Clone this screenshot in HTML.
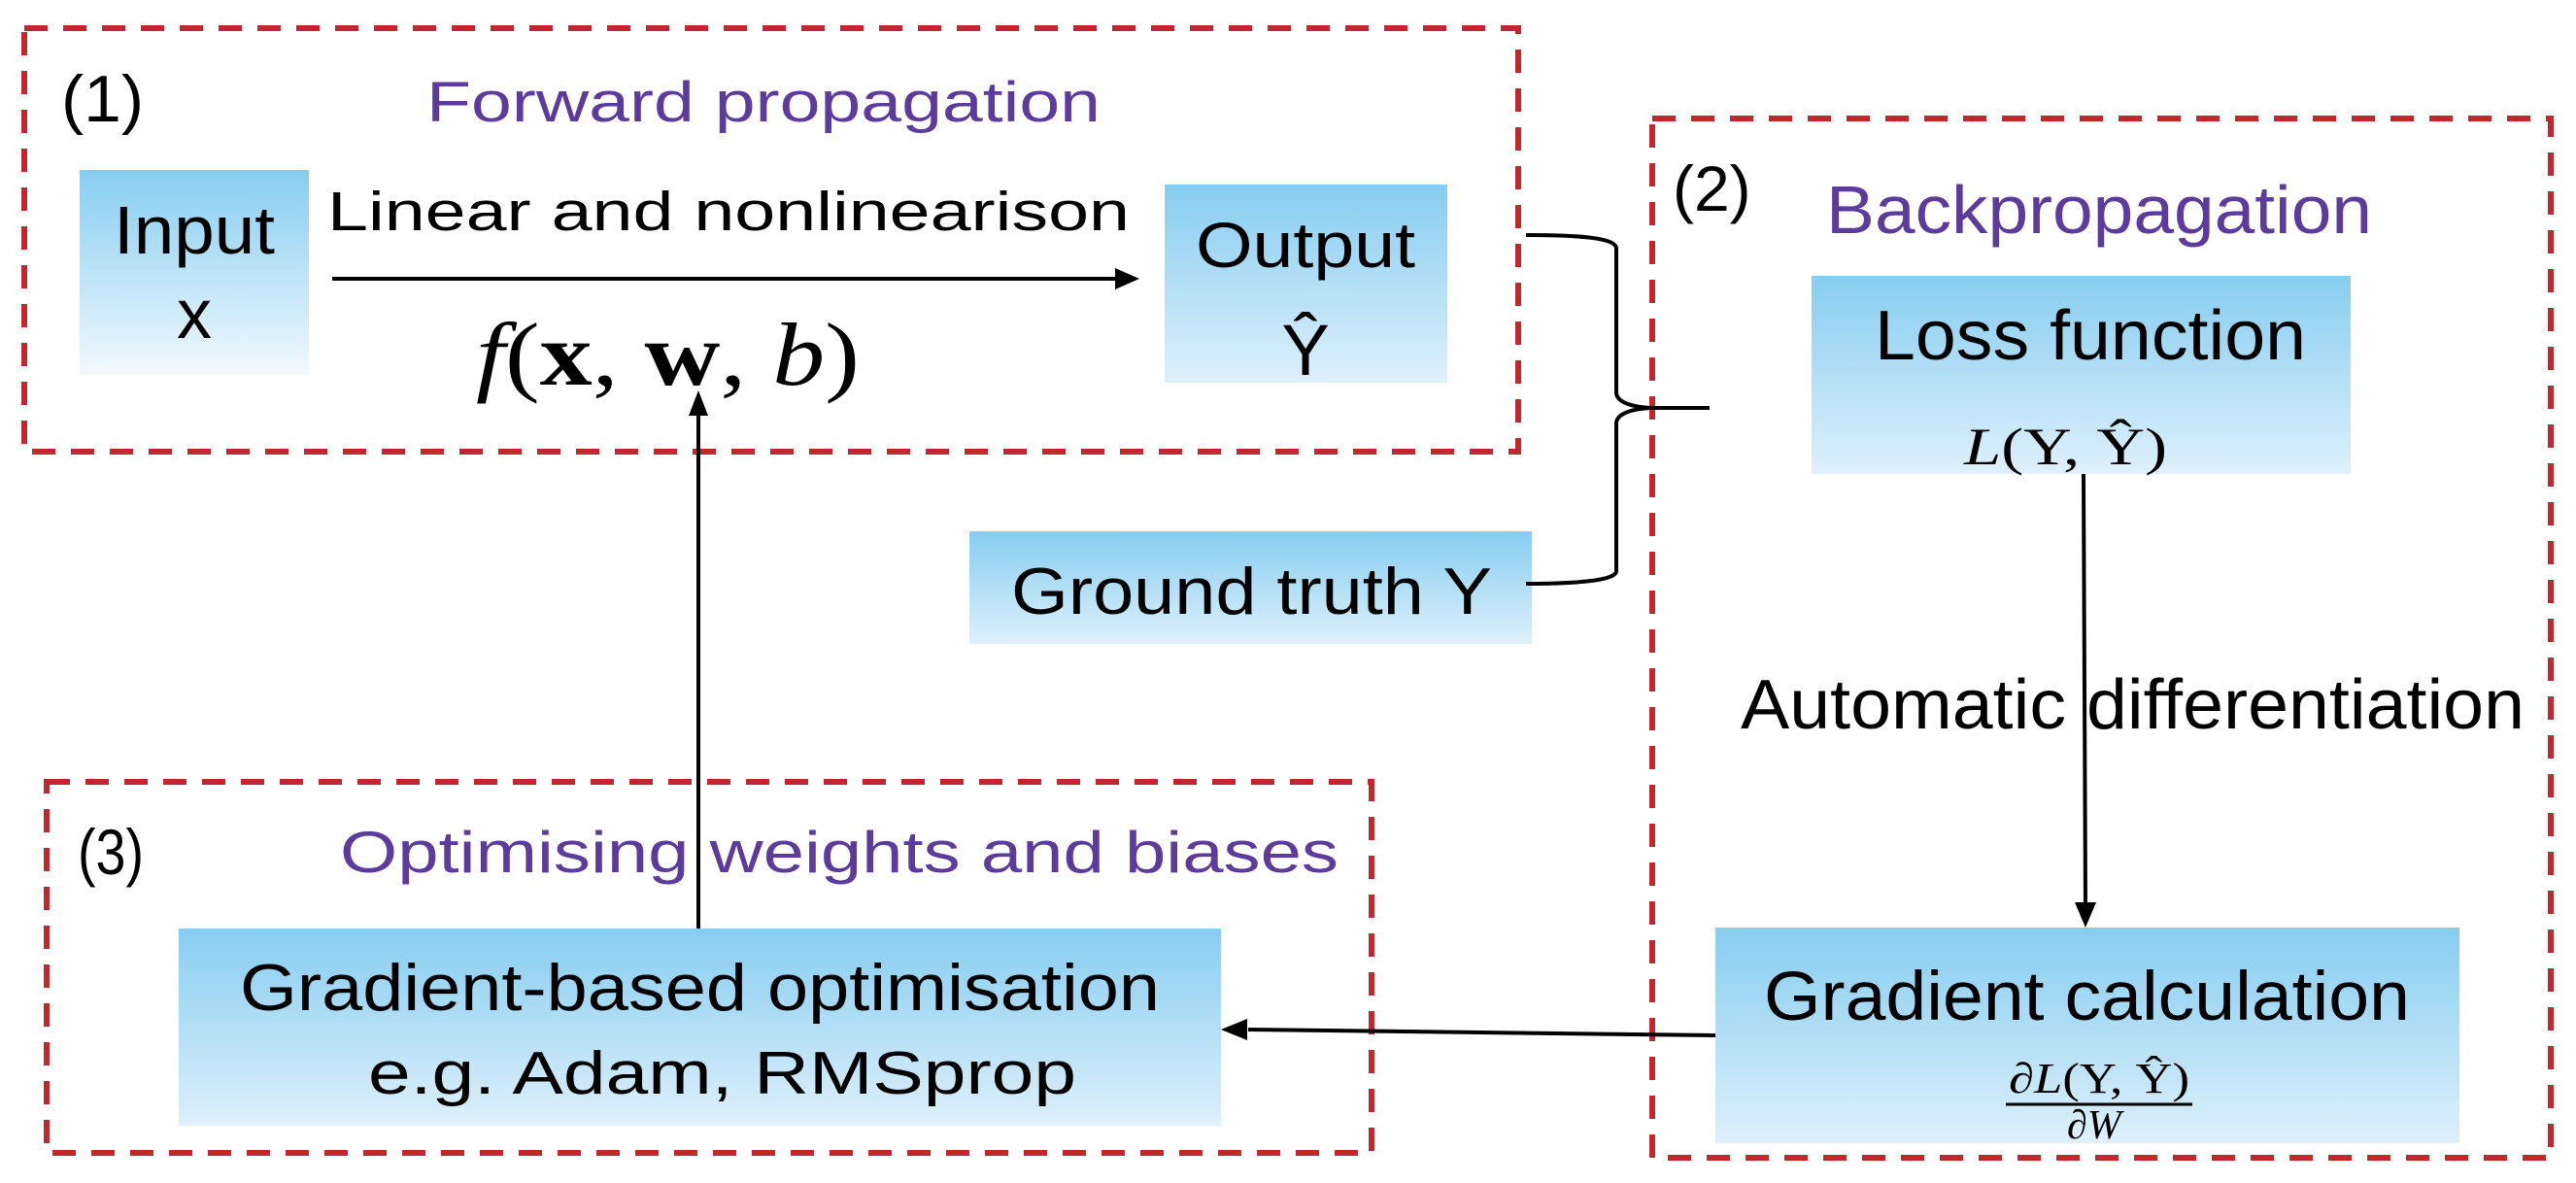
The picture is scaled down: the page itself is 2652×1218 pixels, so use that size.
<!DOCTYPE html>
<html><head><meta charset="utf-8"><style>
html,body{margin:0;padding:0;background:#fff;}
svg{display:block;}
</style></head><body>
<svg width="2652" height="1218" viewBox="0 0 2652 1218" xmlns="http://www.w3.org/2000/svg">
<defs>
<linearGradient id="g" x1="0" y1="0" x2="0" y2="1">
<stop offset="0" stop-color="#86cdf0"/>
<stop offset="1" stop-color="#dff0fb"/>
</linearGradient>
<linearGradient id="g2" x1="0" y1="0" x2="0" y2="1">
<stop offset="0" stop-color="#86cdf0"/>
<stop offset="1" stop-color="#f2f9fe"/>
</linearGradient>
</defs>
<g fill="none" stroke="#c1272d" stroke-width="6" stroke-dasharray="24 16">
<rect x="25" y="29" width="1538" height="436"/>
<rect x="1701" y="122" width="925" height="1070"/>
<rect x="48" y="805" width="1364" height="382"/>
</g>
<g fill="url(#g)">
<rect x="82" y="175" width="236" height="211" fill="url(#g2)"/>
<rect x="1199" y="190" width="291" height="204"/>
<rect x="998" y="547" width="579" height="116"/>
<rect x="1865" y="284" width="555" height="204"/>
<rect x="1766" y="955" width="766" height="222"/>
<rect x="184" y="956" width="1073" height="203"/>
</g>
<g stroke="#000" stroke-width="4" fill="none">
<line x1="342" y1="287" x2="1150" y2="287"/>
<line x1="719" y1="956" x2="719" y2="425"/>
<line x1="2145" y1="488" x2="2147" y2="930"/>
<line x1="1766" y1="1066" x2="1285" y2="1060"/>
<path d="M1571 242 C1620 242 1664 244 1664 256 L1664 404 C1664 414 1680 419 1699 420 L1760 420"/>
<path d="M1699 420 C1680 421 1664 426 1664 436 L1664 588 C1664 598 1620 601 1571 601"/>
</g>
<g fill="#000">
<polygon points="1173,287 1148,276 1148,298"/>
<polygon points="719,402 709,428 729,428"/>
<polygon points="2147,955 2136,929 2158,929"/>
<polygon points="1257,1060 1284,1049 1284,1071"/>
</g>
<g font-family="Liberation Sans, Arial, sans-serif" fill="#000">
<text x="63" y="125" font-size="68" textLength="85" lengthAdjust="spacingAndGlyphs">(1)</text>
<text x="439" y="125" font-size="58" fill="#5b3b9c" textLength="694" lengthAdjust="spacingAndGlyphs">Forward propagation</text>
<text x="337" y="237" font-size="57" textLength="826" lengthAdjust="spacingAndGlyphs">Linear and nonlinearison</text>
<text x="200" y="261" font-size="70" text-anchor="middle" textLength="166" lengthAdjust="spacingAndGlyphs">Input</text>
<text x="200" y="348" font-size="72" text-anchor="middle">x</text>
<text x="1344" y="275" font-size="66" text-anchor="middle" textLength="226" lengthAdjust="spacingAndGlyphs">Output</text>
<text x="1344" y="386" font-size="74" text-anchor="middle">Ŷ</text>
<text x="1041" y="632" font-size="68" textLength="495" lengthAdjust="spacingAndGlyphs">Ground truth Y</text>
<text x="1722" y="217" font-size="66">(2)</text>
<text x="1880" y="240" font-size="70" fill="#5b3b9c" textLength="562" lengthAdjust="spacingAndGlyphs">Backpropagation</text>
<text x="1930" y="370" font-size="72" textLength="444" lengthAdjust="spacingAndGlyphs">Loss function</text>
<text x="1792" y="750" font-size="72" textLength="807" lengthAdjust="spacingAndGlyphs">Automatic differentiation</text>
<text x="1816" y="1050" font-size="71" textLength="665" lengthAdjust="spacingAndGlyphs">Gradient calculation</text>
<text x="80" y="900" font-size="66" textLength="68" lengthAdjust="spacingAndGlyphs">(3)</text>
<text x="350" y="898" font-size="60" fill="#5b3b9c" textLength="1028" lengthAdjust="spacingAndGlyphs">Optimising weights and biases</text>
<text x="247" y="1040" font-size="68" textLength="947" lengthAdjust="spacingAndGlyphs">Gradient-based optimisation</text>
<text x="379" y="1126" font-size="62" textLength="729" lengthAdjust="spacingAndGlyphs">e.g. Adam,  RMSprop</text>
</g>
<g font-family="Liberation Serif, serif" fill="#000">
<text x="490" y="396" font-size="92" textLength="395" lengthAdjust="spacingAndGlyphs"><tspan font-style="italic">f</tspan>(<tspan font-weight="bold">x</tspan>, <tspan font-weight="bold">w</tspan>, <tspan font-style="italic">b</tspan>)</text>
<text x="2022" y="478" font-size="54" textLength="209" lengthAdjust="spacingAndGlyphs"><tspan font-style="italic">L</tspan>(Y, Ŷ)</text>
<text x="2068" y="1125" font-size="44" textLength="186" lengthAdjust="spacingAndGlyphs">∂<tspan font-style="italic">L</tspan>(Y, Ŷ)</text>
<line x1="2065" y1="1137" x2="2257" y2="1137" stroke="#000" stroke-width="3"/>
<text x="2128" y="1172" font-size="42" font-style="italic">∂W</text>
</g>
</svg>
</body></html>
